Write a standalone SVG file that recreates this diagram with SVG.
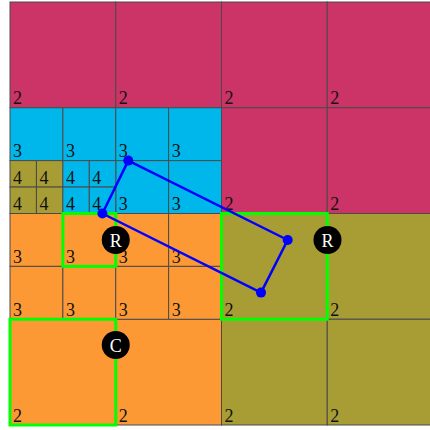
<svg xmlns="http://www.w3.org/2000/svg" width="430" height="430" viewBox="0 0 430 430">
<style>
.c rect{stroke:#4a4a4a;stroke-width:1}
.m{fill:#CC3366}.cy{fill:#00B7EB}.o{fill:#A89D35}.or{fill:#FD9934}
text.l{font-family:"Liberation Serif","DejaVu Serif",serif;font-size:18px;fill:#111}
.g{fill:none;stroke:#00FF00;stroke-width:3}
.b{fill:#0000FF}
.k circle{fill:#000}
.k text{font-family:"Liberation Serif","DejaVu Serif",serif;font-size:18px;fill:#fff;text-anchor:middle}
</style>
<rect width="430" height="430" fill="#fff"/>
<g id="cells" class="c">
<g id="level2">
<rect class="m" x="10" y="2" width="105.75" height="105.75"/>
<rect class="m" x="115.75" y="2" width="105.75" height="105.75"/>
<rect class="m" x="221.5" y="2" width="105.75" height="105.75"/>
<rect class="m" x="327.25" y="2" width="105.75" height="105.75"/>
<rect class="m" x="221.5" y="107.75" width="105.75" height="105.75"/>
<rect class="m" x="327.25" y="107.75" width="105.75" height="105.75"/>
<rect class="o" x="221.5" y="213.5" width="105.75" height="105.75"/>
<rect class="o" x="327.25" y="213.5" width="105.75" height="105.75"/>
<rect class="or" x="10" y="319.25" width="105.75" height="105.75"/>
<rect class="or" x="115.75" y="319.25" width="105.75" height="105.75"/>
<rect class="o" x="221.5" y="319.25" width="105.75" height="105.75"/>
<rect class="o" x="327.25" y="319.25" width="105.75" height="105.75"/>
</g>
<g id="level3">
<rect class="cy" x="10" y="107.75" width="52.875" height="52.875"/>
<rect class="cy" x="62.875" y="107.75" width="52.875" height="52.875"/>
<rect class="cy" x="115.75" y="107.75" width="52.875" height="52.875"/>
<rect class="cy" x="168.625" y="107.75" width="52.875" height="52.875"/>
<rect class="cy" x="115.75" y="160.625" width="52.875" height="52.875"/>
<rect class="cy" x="168.625" y="160.625" width="52.875" height="52.875"/>
<rect class="or" x="10" y="213.5" width="52.875" height="52.875"/>
<rect class="or" x="62.875" y="213.5" width="52.875" height="52.875"/>
<rect class="or" x="115.75" y="213.5" width="52.875" height="52.875"/>
<rect class="or" x="168.625" y="213.5" width="52.875" height="52.875"/>
<rect class="or" x="10" y="266.375" width="52.875" height="52.875"/>
<rect class="or" x="62.875" y="266.375" width="52.875" height="52.875"/>
<rect class="or" x="115.75" y="266.375" width="52.875" height="52.875"/>
<rect class="or" x="168.625" y="266.375" width="52.875" height="52.875"/>
</g>
<g id="level4">
<rect class="o" x="10" y="160.625" width="26.44" height="26.44"/>
<rect class="o" x="36.44" y="160.625" width="26.44" height="26.44"/>
<rect class="o" x="10" y="187.06" width="26.44" height="26.44"/>
<rect class="o" x="36.44" y="187.06" width="26.44" height="26.44"/>
<rect class="cy" x="62.875" y="160.625" width="26.44" height="26.44"/>
<rect class="cy" x="89.31" y="160.625" width="26.44" height="26.44"/>
<rect class="cy" x="62.875" y="187.06" width="26.44" height="26.44"/>
<rect class="cy" x="89.31" y="187.06" width="26.44" height="26.44"/>
</g>
</g>
<g id="labels">
<text class="l" x="13" y="104">2</text><text class="l" x="118.75" y="104">2</text><text class="l" x="224.5" y="104">2</text><text class="l" x="330.25" y="104">2</text>
<text class="l" x="224.5" y="210">2</text><text class="l" x="330.25" y="210">2</text>
<text class="l" x="224.5" y="315.75">2</text><text class="l" x="330.25" y="315.75">2</text>
<text class="l" x="13" y="421.5">2</text><text class="l" x="118.75" y="421.5">2</text><text class="l" x="224.5" y="421.5">2</text><text class="l" x="330.25" y="421.5">2</text>
<text class="l" x="13" y="157">3</text><text class="l" x="65.875" y="157">3</text><text class="l" x="118.75" y="157">3</text><text class="l" x="171.625" y="157">3</text>
<text class="l" x="118.75" y="210">3</text><text class="l" x="171.625" y="210">3</text>
<text class="l" x="13" y="263">3</text><text class="l" x="65.875" y="263">3</text><text class="l" x="118.75" y="263">3</text><text class="l" x="171.625" y="263">3</text>
<text class="l" x="13" y="315.75">3</text><text class="l" x="65.875" y="315.75">3</text><text class="l" x="118.75" y="315.75">3</text><text class="l" x="171.625" y="315.75">3</text>
<text class="l" x="13" y="183.5">4</text><text class="l" x="39.44" y="183.5">4</text><text class="l" x="65.875" y="183.5">4</text><text class="l" x="92.31" y="183.5">4</text>
<text class="l" x="13" y="210">4</text><text class="l" x="39.44" y="210">4</text><text class="l" x="65.875" y="210">4</text><text class="l" x="92.31" y="210">4</text>
</g>
<g id="highlights">
<rect class="g" x="62.875" y="213.5" width="52.875" height="52.875"/>
<rect class="g" x="221.5" y="213.5" width="105.75" height="105.75"/>
<rect class="g" x="10" y="319.25" width="105.75" height="105.75"/>
</g>
<g id="connectors">
<polygon points="128.3,160.6 287.7,240 261,292.6 102.4,213.5" fill="none" stroke="#0000FF" stroke-width="2.5" stroke-linejoin="round"/>
<circle class="b" cx="128.3" cy="160.6" r="5"/>
<circle class="b" cx="287.7" cy="240" r="5"/>
<circle class="b" cx="261" cy="292.6" r="5"/>
<circle class="b" cx="102.4" cy="213.5" r="5"/>
</g>
<g id="node-R1" class="k"><circle cx="115.75" cy="240" r="14"/><text x="115.75" y="246.5">R</text></g>
<g id="node-R2" class="k"><circle cx="327.5" cy="240" r="14"/><text x="327.5" y="246.5">R</text></g>
<g id="node-C" class="k"><circle cx="115.75" cy="345" r="14"/><text x="115.75" y="351.5">C</text></g>
</svg>
